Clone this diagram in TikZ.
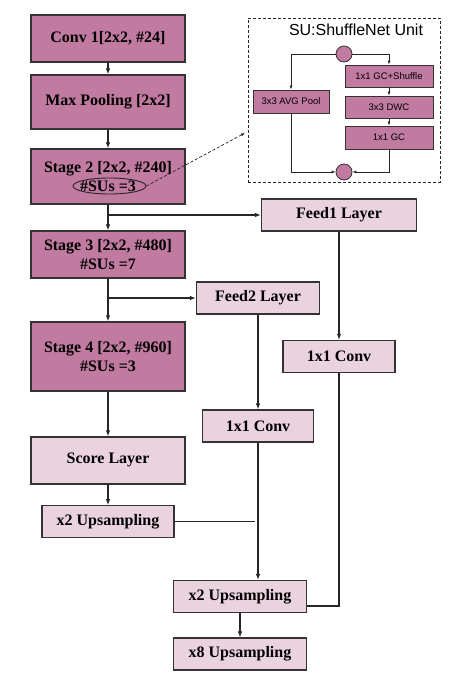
\documentclass[tikz,border=0pt]{standalone}
\usepackage{fontspec}
\setmainfont{Liberation Serif}
\setsansfont{Liberation Sans}
\usetikzlibrary{positioning,arrows.meta,shapes.geometric}
\definecolor{dmauve}{RGB}{193,122,160}
\definecolor{lmauve}{RGB}{234,210,222}

\begin{document}
\begin{tikzpicture}[
  x=1pt,y=-1pt,
  >={Latex[length=6pt,width=4.5pt]},
  stage/.style={rectangle,draw=black!80,line width=1.2pt,fill=dmauve,
                align=center,inner sep=0pt,minimum width=154pt,
                font=\fontsize{16}{18.5}\selectfont\bfseries},
  layer/.style={rectangle,draw=black!80,line width=1.2pt,fill=lmauve,
                align=center,inner sep=0pt,minimum height=32pt,
                font=\fontsize{16}{18.5}\selectfont\bfseries},
  unit/.style={rectangle,draw=black!80,line width=0.8pt,fill=dmauve,
               inner sep=0pt,minimum width=88pt,
               font=\sffamily\fontsize{9.5}{11}\selectfont},
  dot/.style={circle,draw=black!80,line width=0.8pt,fill=dmauve,
              minimum size=16pt,inner sep=0pt},
  arr/.style={->,line width=1.1pt,black!85},
  line/.style={line width=1.1pt,black!85},
  sarr/.style={-{Latex[length=4pt,width=3pt]},line width=0.7pt,black!85}
]
\useasboundingbox (0,0) rectangle (461,685);

%% ================= backbone =================
\node[stage,minimum height=47pt] (conv1)  at (108, 38.5) {Conv 1[2x2, \#24]};
\node[stage,minimum height=54pt] (pool)   at (108,102.0) {Max Pooling [2x2]};
\node[stage,minimum height=55pt] (stage2) at (108,176.5) {Stage 2 [2x2, \#240]\\\#SUs =3};
\node[ellipse,draw=black!85,line width=0.9pt,minimum width=73pt,
      minimum height=16pt,inner sep=0pt] (sus) at (109.5,186) {};
\node[stage,minimum height=47pt] (stage3) at (108,254.5) {Stage 3 [2x2, \#480]\\\#SUs =7};
\node[stage,minimum height=69pt] (stage4) at (108,356.4) {Stage 4 [2x2, \#960]\\\#SUs =3};
\node[layer,minimum width=154pt,minimum height=47pt] (score) at (108,460.4) {Score Layer};
\node[layer,minimum width=132pt] (up1) at (108,521.7) {x2 Upsampling};
\foreach \a/\b in {conv1/pool, pool/stage2, stage2/stage3, stage3/stage4,
                   stage4/score, score/up1} \draw[arr] (\a) -- (\b);

%% ================= skip branches =================
\node[layer,minimum width=155pt] (feed1) at (339,215.0) {Feed1 Layer};
\node[layer,minimum width=123pt] (feed2) at (258,298.0) {Feed2 Layer};
\node[layer,minimum width=112pt] (conva) at (339,356.4) {1x1 Conv};
\node[layer,minimum width=111pt] (convb) at (258,426.0) {1x1 Conv};
\node[layer,minimum width=133pt] (up2)   at (240,596.5) {x2 Upsampling};
\node[layer,minimum width=133pt] (up8)   at (240,654.0) {x8 Upsampling};

\draw[arr] (stage2.south |- feed1.west) -- (feed1.west);
\draw[arr] (stage3.south |- feed2.west) -- (feed2.west);
\draw[arr] (feed1) -- (conva);
\draw[arr] (feed2) -- (convb);
\draw[arr] (convb.south) -- (convb.south |- up2.north);
\draw[line] (up1.east) -- ([xshift=-3pt]convb.south |- up1.east);
\draw[line] (conva.south) |- ([yshift=-9.5pt]up2.east);
\draw[arr] (up2) -- (up8);

%% ================= SU: ShuffleNet unit =================
\node[rectangle,draw=black!85,line width=0.8pt,dash pattern=on 3pt off 2pt,
      minimum width=192pt,minimum height=164pt,inner sep=0pt] (sunit) at (344,100) {};
\node[font=\sffamily\fontsize{16}{18}\selectfont,inner sep=0pt] (sutitle) at (356,30) {SU:ShuffleNet Unit};
\node[dot] (split) at (344,54) {};
\node[dot] (merge) at (344,172) {};
\node[unit,minimum height=22pt] (gcs) at (389,76.0)  {1x1 GC+Shuffle};
\node[unit,minimum height=22pt] (dwc) at (389,107.0) {3x3 DWC};
\node[unit,minimum height=23pt] (gc)  at (389,137.5) {1x1 GC};
\node[unit,minimum width=76pt,minimum height=23pt] (avg) at (291,101.5) {3x3 AVG Pool};
\draw[sarr] (split.east) -| (gcs.north);
\draw[sarr] (split.west) -| (avg.north);
\draw[sarr] (gcs) -- (dwc);
\draw[sarr] (dwc) -- (gc);
\draw[sarr] (gc.south) |- (merge.east);
\draw[sarr] (avg.south) |- (merge.west);

\coordinate (sulink) at (245,133);
\draw[sarr,dash pattern=on 3pt off 2pt] (sus.east) -- (sulink);

\end{tikzpicture}
\end{document}
